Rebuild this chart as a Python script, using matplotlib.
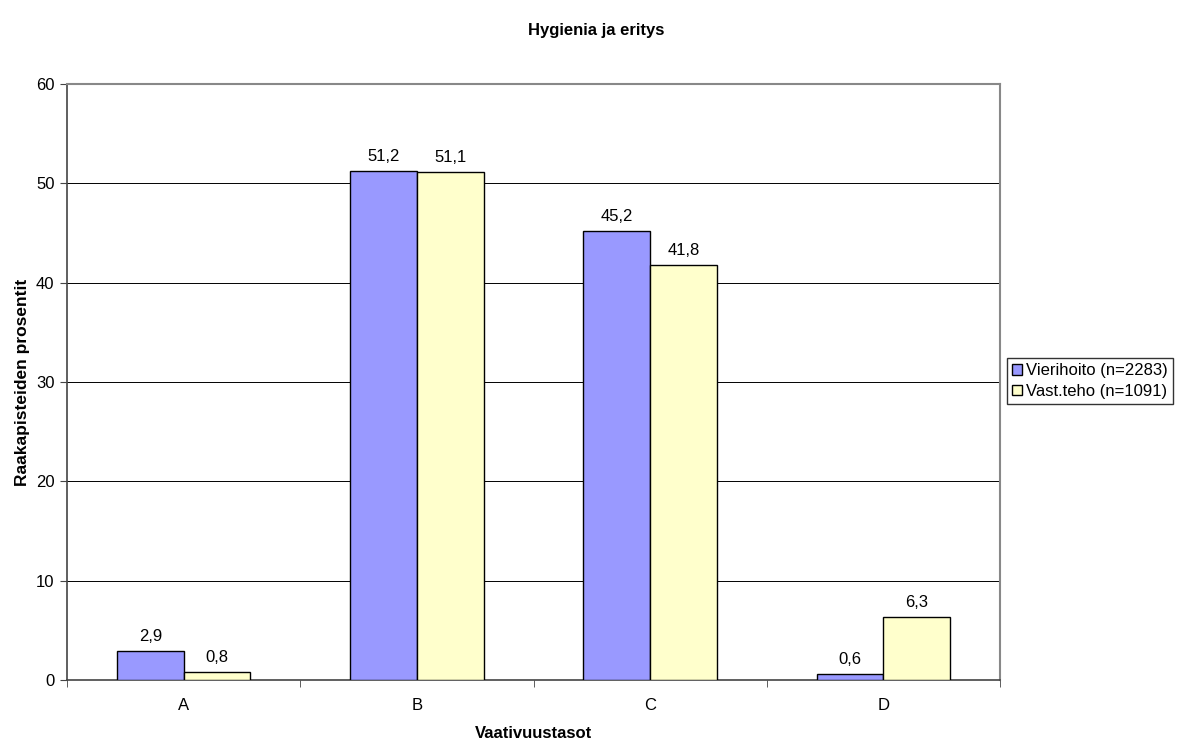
import matplotlib.pyplot as plt
import numpy as np

plt.rcParams['font.family'] = ['Liberation Sans', 'DejaVu Sans']

categories = ['A', 'B', 'C', 'D']
vierihoito = [2.9, 51.2, 45.2, 0.6]
vast_teho = [0.8, 51.1, 41.8, 6.3]
series_names = ['Vierihoito (n=2283)', 'Vast.teho (n=1091)']


def fmt(v):
    return '{:.1f}'.format(v).replace('.', ',')


fig = plt.figure(figsize=(11.92, 7.44), dpi=100)
ax = fig.add_axes([67 / 1192, 1 - 680 / 744, 933 / 1192, 596 / 744])

x = np.arange(len(categories))
w = 0.286
b1 = ax.bar(x - w / 2, vierihoito, w, color='#9999FF', edgecolor='black',
            linewidth=1, label=series_names[0], zorder=3)
b2 = ax.bar(x + w / 2, vast_teho, w, color='#FFFFCC', edgecolor='black',
            linewidth=1, label=series_names[1], zorder=3)

# value labels above each bar, with a decimal comma
for bars, vals in ((b1, vierihoito), (b2, vast_teho)):
    for rect, v in zip(bars, vals):
        ax.annotate(fmt(v), (rect.get_x() + rect.get_width() / 2, v),
                    xytext=(0, 5), textcoords='offset points',
                    ha='center', va='bottom', fontsize=12)

ax.set_xlim(-0.5, len(categories) - 0.5)
ax.set_ylim(0, 60)
ax.set_yticks(range(0, 61, 10))
ax.set_xticks(x)
ax.set_xticklabels(categories)
ax.set_xticks(np.arange(-0.5, len(categories)), minor=True)
ax.tick_params(axis='x', which='major', length=0, pad=13, labelsize=12)
ax.tick_params(axis='x', which='minor', length=5, color='#444444')
ax.tick_params(axis='y', length=5, labelsize=12, pad=4, color='#444444')

ax.yaxis.grid(True, color='black', linewidth=0.7, zorder=0)
ax.set_axisbelow(True)

for side in ('left', 'bottom'):
    ax.spines[side].set_color('#444444')
    ax.spines[side].set_linewidth(1.2)
for side in ('top', 'right'):
    ax.spines[side].set_color('#888888')
    ax.spines[side].set_linewidth(1.5)

ax.set_xlabel('Vaativuustasot', fontweight='bold', fontsize=12, labelpad=9)
ax.set_ylabel('Raakapisteiden prosentit', fontweight='bold', fontsize=12.5,
              labelpad=4)
fig.text(0.5, 1 - 30 / 744, 'Hygienia ja eritys', ha='center', va='center',
         fontweight='bold', fontsize=12)

leg = fig.legend(loc='center left', bbox_to_anchor=(1007 / 1192, 1 - 381 / 744),
                 frameon=True, fancybox=False, fontsize=12, handlelength=0.6,
                 handleheight=0.6, handletextpad=0.25, borderpad=0.3,
                 labelspacing=0.35, borderaxespad=0)
leg.get_frame().set_edgecolor('black')
leg.get_frame().set_linewidth(1)

fig.savefig('out.png', dpi=100)
